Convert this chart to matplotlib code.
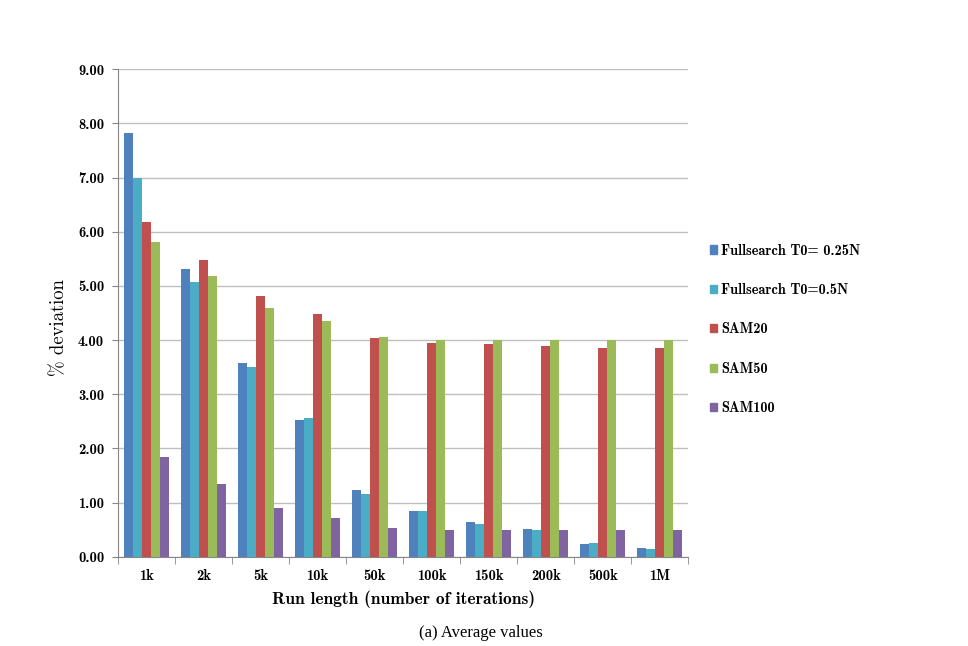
import numpy as np
import matplotlib
matplotlib.use("Agg")
import matplotlib.pyplot as plt
from matplotlib.patches import Patch

run_lengths = ["1k", "2k", "5k", "10k", "50k", "100k", "150k", "200k", "500k", "1M"]
series_names = ["Fullsearch T0= 0.25N", "Fullsearch T0=0.5N", "SAM20", "SAM50", "SAM100"]
full_025 = [7.83, 5.31, 3.57, 2.53, 1.24, 0.85, 0.64, 0.51, 0.24, 0.16]
full_05 = [7.00, 5.07, 3.50, 2.56, 1.16, 0.84, 0.60, 0.50, 0.25, 0.15]
sam20 = [6.18, 5.47, 4.82, 4.49, 4.04, 3.95, 3.92, 3.90, 3.86, 3.86]
sam50 = [5.81, 5.18, 4.59, 4.36, 4.06, 4.00, 4.00, 4.00, 4.00, 4.00]
sam100 = [1.84, 1.35, 0.90, 0.72, 0.53, 0.50, 0.50, 0.50, 0.50, 0.50]
colors = ["#4F81BD", "#4BACC6", "#C0504D", "#9BBB59", "#8064A2"]

series = [full_025, full_05, sam20, sam50, sam100]

fig = plt.figure(figsize=(9.68, 6.46), dpi=100)
ax = fig.add_axes([0.122, 0.138, 0.589, 0.755])

x = np.arange(len(run_lengths))
w = 0.157
for i, (vals, col) in enumerate(zip(series, colors)):
    ax.bar(x + (i - 2) * w, vals, width=w, color=col, zorder=3)

ax.set_xlim(-0.5, len(run_lengths) - 0.5)
ax.set_ylim(0, 9)
ax.set_yticks(np.arange(0, 10, 1))
ax.set_yticklabels([f"{v:.2f}" for v in np.arange(0, 10, 1)], fontfamily="cmb10", fontsize=10.5)
ax.set_xticks(x)
ax.set_xticklabels(run_lengths, fontfamily="cmb10", fontsize=10.5)
ax.set_xticks(np.arange(-0.5, len(run_lengths)), minor=True)
ax.tick_params(axis="x", which="major", length=0, pad=9)
ax.tick_params(axis="x", which="minor", length=5, color="#868686")
ax.tick_params(axis="y", length=4, color="#868686", pad=6)
ax.yaxis.grid(True, color="#BFBFBF", linewidth=1, zorder=0)
for s in ["top", "right"]:
    ax.spines[s].set_visible(False)
for s in ["left", "bottom"]:
    ax.spines[s].set_color("#868686")

ax.set_ylabel("% deviation", fontfamily=["cmr10", "DejaVu Serif"], fontsize=13.5)
ax.yaxis.set_label_coords(-0.088, 0.471)
ax.set_xlabel("Run length (number of iterations)", fontfamily="cmb10", fontsize=12.5, labelpad=5)

handles = [Patch(color=c) for c in colors]
fig.legend(handles, series_names, loc="upper left", bbox_to_anchor=(0.733, 0.623),
           frameon=False, prop={"family": "cmb10", "size": 10.3},
           handlelength=0.5, handleheight=0.5, handletextpad=0.3,
           labelspacing=1.78, borderpad=0, borderaxespad=0)

fig.text(0.497, 1 - 633 / 646, "(a) Average values", ha="center", va="center",
         fontfamily="Liberation Serif", fontsize=12)

fig.savefig("out.png", dpi=100)
